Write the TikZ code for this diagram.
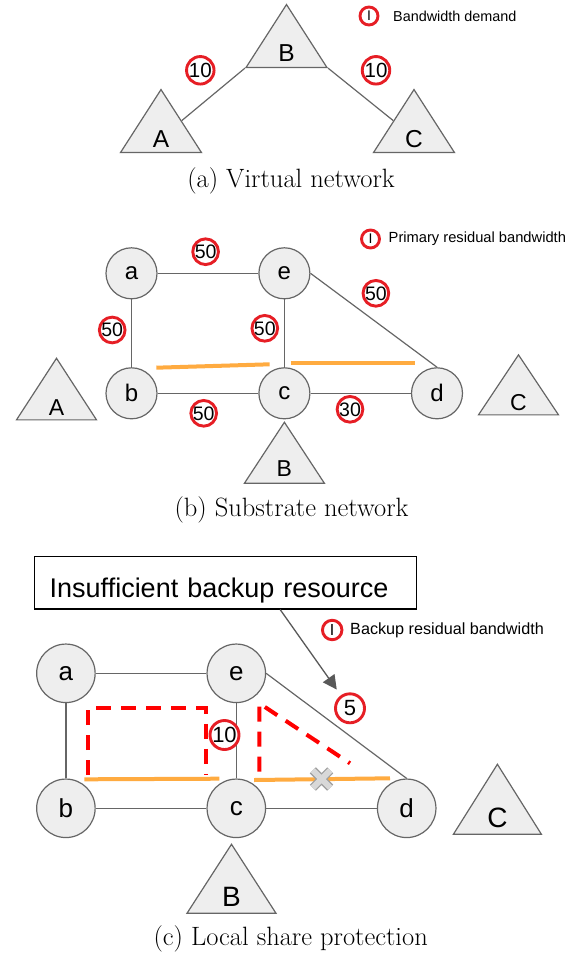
\documentclass[tikz,border=0pt]{standalone}
\usepackage{fontspec}
\setsansfont{Liberation Sans}
\usetikzlibrary{shapes.geometric, arrows.meta, calc}

\definecolor{edgegray}{HTML}{666666}
\definecolor{fillgray}{HTML}{EEEEEE}
\definecolor{bwred}{HTML}{E61E25}
\definecolor{pathred}{HTML}{FF0000}
\definecolor{pathorange}{HTML}{FFAB40}
\definecolor{arrowgray}{HTML}{595959}

\newcommand{\sfsize}[1]{\sffamily\fontsize{#1}{#1}\selectfont}
\newcommand{\rmsize}[1]{\rmfamily\fontsize{#1}{#1}\selectfont}

\begin{document}
\begin{tikzpicture}[
    x=1pt, y=-1pt,
    link/.style={draw=edgegray, line width=1.2pt},
    sw/.style 2 args={draw=edgegray, circle, fill=fillgray, line width=1.2pt, inner sep=0pt, minimum size=#1, font=\sfsize{#2}},
    vn/.style 2 args={draw=edgegray, isosceles triangle, shape border rotate=90, isosceles triangle stretches, fill=fillgray, line width=1.2pt, inner sep=0pt, minimum width=#1, minimum height=#2, anchor=apex},
    vlbl/.style={inner sep=0pt, font=\sfsize{#1}},
    bw/.style 2 args={draw=bwred, circle, fill=white, line width=2.9pt, inner sep=0pt, minimum size=#1, font=\sfsize{#2}},
    lgd/.style={inner sep=0pt, anchor=west, font=\sfsize{#1}},
    subcap/.style={inner sep=0pt, anchor=base, font=\rmsize{26.5}},
    primary/.style={draw=pathorange, line width=4pt},
    backup/.style={draw=pathred, line width=4pt, dash pattern=on 15pt off 10pt},
    callout/.style={draw=arrowgray, line width=1.3pt, -{Triangle[length=14pt, width=14pt]}, shorten >=7pt},
    msgbox/.style={draw=black, line width=1.2pt, anchor=north west, text width=352pt, align=left, inner xsep=15pt, inner ysep=0pt, minimum height=52.6pt, text height=29.4pt, text depth=0pt, font=\sfsize{27}}
]
\useasboundingbox (0,0) rectangle (581,956);

% (a) virtual network
\node[vn={81pt}{63pt}] (vA) at (161,88) {};
\node[vn={81pt}{63pt}] (vB) at (286.5,3) {};
\node[vn={81pt}{63pt}] (vC) at (414,88) {};
\node[vlbl=24.5] (vAt) at ($(vA.lower side)+(0,-14)$) {A};
\node[vlbl=24.5] (vBt) at ($(vB.lower side)+(0,-15)$) {B};
\node[vlbl=24.5] (vCt) at ($(vC.lower side)+(0,-14)$) {C};
\draw[link] (vB.left corner) -- (vA.right side);
\draw[link] (vB.right corner) -- (vC.left side);
\node[bw={27.5pt}{20.5}] (dAB) at (200.3,70.3) {10};
\node[bw={27.5pt}{20.5}] (dBC) at (376,70.3) {10};
\node[bw={18pt}{14}] (lgA) at (369,16) {I};
\node[lgd=14.4] (lgAt) at (393,16) {Bandwidth demand};
\node[subcap] (capA) at (291,187) {(a) Virtual network};

% (b) substrate network
\node[sw={51pt}{24}] (a1) at (131.5,273.3) {a};
\node[sw={51pt}{24}] (e1) at (284.4,273.3) {e};
\node[sw={51pt}{24}] (b1) at (131.5,393.3) {b};
\node[sw={51pt}{24}] (c1) at (284.4,393.3) {c};
\node[sw={51pt}{24}] (d1) at (437,393.3) {d};
\draw[link] (a1) -- (e1);
\draw[link] (a1) -- (b1);
\draw[link] (e1) -- (c1);
\draw[link] (b1) -- (c1);
\draw[link] (c1) -- (d1);
\draw[link] (e1.east) -- (d1.north);
\node[bw={25.5pt}{19.5}] (pAE) at (205.6,251.7) {50};
\node[bw={25.5pt}{19.5}] (pED) at (375.9,293.3) {50};
\node[bw={25.5pt}{19.5}] (pAB) at (112.2,330) {50};
\node[bw={25.5pt}{19.5}] (pEC) at (264.8,328.3) {50};
\node[bw={25.5pt}{19.5}] (pBC) at (203.7,413.3) {50};
\node[bw={25.5pt}{19.5}] (pCD) at (350,409.3) {30};
\draw[primary] (156.3,367.7) -- (269.6,364.3);
\draw[primary] (290.7,363.3) -- (414.8,363.3);
\node[vn={80pt}{61.6pt}] (sA) at (56.5,356.7) {};
\node[vn={80pt}{60pt}] (sC) at (518.5,353.3) {};
\node[vn={80pt}{61pt}] (sB) at (284.4,420.7) {};
\node[vlbl=23] (sAt) at ($(sA.lower side)+(0,-13.3)$) {A};
\node[vlbl=23] (sCt) at ($(sC.lower side)+(0,-13.3)$) {C};
\node[vlbl=23] (sBt) at ($(sB.lower side)+(0,-15)$) {B};
\node[bw={18pt}{14}] (lgB) at (370.5,239) {I};
\node[lgd=14.7] (lgBt) at (388.5,239) {Primary residual bandwidth};
\node[subcap] (capB) at (291.5,516) {(b) Substrate network};

% (c) local share protection
\node[msgbox] (msg) at (34.1,555.7) {Insufficient backup resource};
\node[sw={58.5pt}{26}] (a2) at (65.9,673.3) {a};
\node[sw={58.5pt}{26}] (e2) at (236.3,673.3) {e};
\node[sw={58.5pt}{26}] (b2) at (65.9,808.3) {b};
\node[sw={58.5pt}{26}] (c2) at (236.3,808.3) {c};
\node[sw={58.5pt}{26}] (d2) at (406.7,808.3) {d};
\draw[link] (a2) -- (e2);
\draw[link] (a2) -- (b2);
\draw[link] (e2) -- (c2);
\draw[link] (b2) -- (c2);
\draw[link] (c2) -- (d2);
\draw[link] (e2.east) -- (d2.north);
\draw[backup] (87.8,775) -- (87.8,708.3) -- (205.6,708.3) -- (205.6,775);
\draw[backup] (259.3,771.7) -- (259.3,703.3) -- (350,763.3);
\draw[primary] (84.4,779.3) -- (219.3,778.7);
\draw[primary] (254.1,780) -- (390,778.3);
\node[inner sep=0pt, minimum size=17pt] (cut) at (321.5,779) {};
\draw[line width=8.5pt, gray!75] (cut.north west) -- (cut.south east) (cut.north east) -- (cut.south west);
\draw[line width=6pt, fillgray!80!gray] (cut.north west) -- (cut.south east) (cut.north east) -- (cut.south west);
\node[bw={27pt}{22}] (bEC) at (224.5,735) {10};
\node[bw={29pt}{22}] (bED) at (350,708.3) {5};
\coordinate (tail) at ($(msg.south west)!0.642!(msg.south east)$);
\draw[callout] (tail) -- (bED);
\node[bw={19.5pt}{16}] (lgC) at (332.2,630) {I};
\node[lgd=16.2] (lgCt) at (350,630) {Backup residual bandwidth};
\node[vn={89pt}{69pt}] (cB) at (231.5,842.7) {};
\node[vn={88pt}{70pt}] (cC) at (497.4,762.7) {};
\node[vlbl=28] (cBt) at ($(cB.lower side)+(0,-16.7)$) {B};
\node[vlbl=28] (cCt) at ($(cC.lower side)+(0,-16.7)$) {C};
\node[subcap] (capC) at (290.7,945) {(c) Local share protection};
\end{tikzpicture}
\end{document}
